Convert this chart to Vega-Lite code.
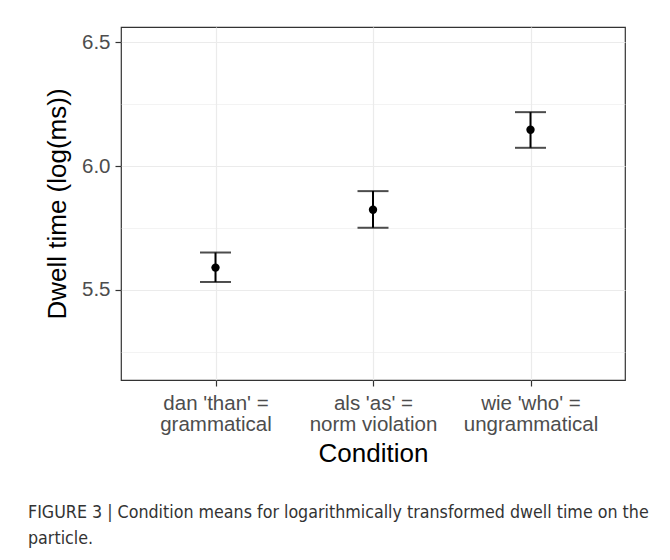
{
  "$schema": "https://vega.github.io/schema/vega-lite/v6.json",
  "autosize": "none",
  "width": 504,
  "height": 353,
  "padding": {"left": 121, "top": 27, "right": 45, "bottom": 180},
  "background": "white",
  "data": {
    "values": [
      {"condition": "dan 'than' = grammatical", "mean": 5.590, "lower": 5.532, "upper": 5.651},
      {"condition": "als 'as' = norm violation", "mean": 5.824, "lower": 5.751, "upper": 5.899},
      {"condition": "wie 'who' = ungrammatical", "mean": 6.147, "lower": 6.074, "upper": 6.218}
    ]
  },
  "title": {
    "text": ["FIGURE 3 | Condition means for logarithmically transformed dwell time on the", "particle."],
    "orient": "bottom",
    "anchor": "start",
    "frame": "group",
    "dx": -93,
    "offset": 38,
    "baseline": "top",
    "font": "Liberation Sans Narrow, DejaVu Sans Condensed, Liberation Sans",
    "fontSize": 17.7,
    "fontWeight": "normal",
    "color": "#333333",
    "lineHeight": 26
  },
  "encoding": {
    "x": {
      "field": "condition",
      "type": "nominal",
      "sort": ["dan 'than' = grammatical", "als 'as' = norm violation", "wie 'who' = ungrammatical"],
      "scale": {"type": "point", "padding": 0.6},
      "title": "Condition",
      "axis": {
        "labelAngle": 0,
        "labelExpr": "[slice(datum.label, 0, indexof(datum.label, '=') + 1), slice(datum.label, indexof(datum.label, '=') + 2)]",
        "labelLineHeight": 21.5,
        "labelPadding": 7,
        "titlePadding": 5
      }
    }
  },
  "layer": [
    {
      "mark": {"type": "rule", "color": "black", "strokeWidth": 2},
      "encoding": {
        "y": {
          "field": "lower",
          "type": "quantitative",
          "scale": {"domain": [5.136, 6.562], "nice": false, "zero": false},
          "title": "Dwell time (log(ms))",
          "axis": {
            "values": [5.25, 5.5, 5.75, 6.0, 6.25, 6.5],
            "labelExpr": "datum.value % 0.5 == 0 ? format(datum.value, '.1f') : ''",
            "gridWidth": {"condition": {"test": "datum.value % 0.5 == 0", "value": 1.2}, "value": 0.6},
            "tickOpacity": {"condition": {"test": "datum.value % 0.5 == 0", "value": 1}, "value": 0},
            "titlePadding": 11
          }
        },
        "y2": {"field": "upper"}
      }
    },
    {
      "mark": {"type": "tick", "color": "black", "thickness": 2, "size": 31, "orient": "horizontal"},
      "encoding": {"y": {"field": "lower", "type": "quantitative"}}
    },
    {
      "mark": {"type": "tick", "color": "black", "thickness": 2, "size": 31, "orient": "horizontal"},
      "encoding": {"y": {"field": "upper", "type": "quantitative"}}
    },
    {
      "mark": {"type": "point", "filled": true, "color": "black", "opacity": 1, "size": 70},
      "encoding": {"y": {"field": "mean", "type": "quantitative"}}
    }
  ],
  "config": {
    "font": "Liberation Sans",
    "view": {"stroke": "#333333", "strokeWidth": 1.2},
    "axis": {
      "domain": false,
      "grid": true,
      "gridColor": "#ebebeb",
      "gridWidth": 1.2,
      "tickColor": "#333333",
      "tickSize": 6,
      "tickWidth": 1.2,
      "labelFont": "Liberation Sans",
      "labelFontSize": 20.5,
      "labelColor": "#4d4d4d",
      "labelPadding": 5,
      "titleFont": "Liberation Sans",
      "titleFontSize": 26,
      "titleFontWeight": "normal",
      "titleColor": "black"
    }
  }
}
